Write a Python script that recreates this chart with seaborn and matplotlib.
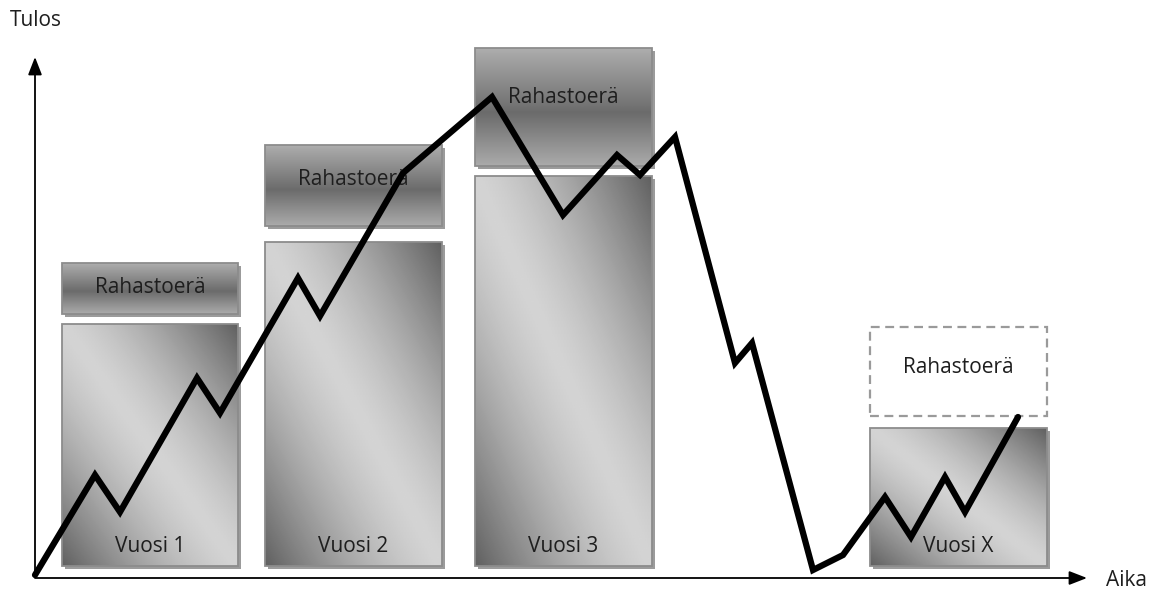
"""
Rahastoerä diagram: result over time with yearly boxes
"""

import numpy as np
import seaborn as sns
import matplotlib.pyplot as plt
from matplotlib.patches import Rectangle

# result curve (time, result)
line_t = [0, 60, 85, 162, 185, 263, 285, 368, 457, 528, 582, 605, 640,
          700, 717, 778, 808, 850, 876, 910, 930, 983]
line_v = [0, 100, 63, 197, 162, 297, 259, 402, 478, 360, 420, 400, 438,
          212, 232, 5, 20, 78, 38, 98, 63, 158]

# yearly boxes
year_labels = ["Vuosi 1", "Vuosi 2", "Vuosi 3", "Vuosi X"]
year_start = [27, 230, 440, 835]
year_end = [203, 407, 617, 1012]
year_top = [251, 333, 399, 147]
year_bottom = 9

# fund batch boxes (last one is still open -> dashed)
fund_label = "Rahastoerä"
fund_bottom = [261, 349, 409, 159]
fund_top = [312, 430, 527, 248]
fund_text_pos = [0.52, 0.58, 0.58, 0.55]

sns.set_theme(style="white")
plt.rcParams["font.family"] = ["Open Sans", "DejaVu Sans"]
FS = 15
TXT = "#1e1e1e"

fig = plt.figure(figsize=(11.68, 5.92), dpi=100)
ax = fig.add_axes([0, 0, 1, 1])


def diag_gradient(n=120):
    u, v = np.meshgrid(np.linspace(0, 1, n), np.linspace(1, 0, n))
    t = np.abs((u + v) - 1.0)
    return 0.83 - 0.45 * t ** 1.4


def vert_gradient(n=120):
    v = np.linspace(1, 0, n)[:, None]
    g = np.interp(v, [0, 0.45, 1], [0.67, 0.42, 0.68])
    return np.repeat(g, 4, axis=1)


def shaded_box(x0, x1, y0, y1, img):
    ax.add_patch(Rectangle((x0 + 3, y0 - 3), x1 - x0, y1 - y0,
                           facecolor="#4a4a4a", alpha=0.55, lw=0, zorder=1))
    im = ax.imshow(img, extent=[x0, x1, y0, y1], cmap="gray", vmin=0, vmax=1,
                   aspect="auto", interpolation="bilinear", zorder=2)
    rect = Rectangle((x0, y0), x1 - x0, y1 - y0, facecolor="none",
                     edgecolor="#8c8c8c", lw=1.3, zorder=3)
    ax.add_patch(rect)
    im.set_clip_path(rect)


for i, lab in enumerate(year_labels):
    x0, x1 = year_start[i], year_end[i]
    shaded_box(x0, x1, year_bottom, year_top[i], diag_gradient())
    ax.text((x0 + x1) / 2, 28, lab, ha="center", va="center",
            fontsize=FS, color=TXT, zorder=4)

    fb, ft = fund_bottom[i], fund_top[i]
    if i < len(year_labels) - 1:
        shaded_box(x0, x1, fb, ft, vert_gradient())
    else:
        ax.add_patch(Rectangle((x0, fb), x1 - x0, ft - fb, facecolor="none",
                               edgecolor="#9a9a9a", lw=1.6,
                               linestyle=(0, (4, 2.5)), zorder=3))
    ax.text((x0 + x1) / 2, fb + fund_text_pos[i] * (ft - fb), fund_label,
            ha="center", va="center", fontsize=FS, color=TXT, zorder=4)

sns.lineplot(x=line_t, y=line_v, sort=False, color="black", lw=4.5,
             solid_joinstyle="miter", ax=ax, zorder=5)

# axes with arrows
arrow = dict(arrowstyle="-|>,head_length=0.9,head_width=0.35",
             color="black", lw=1.3, shrinkA=0, shrinkB=0)
ax.annotate("", xy=(0, 518), xytext=(0, 0), arrowprops=arrow, zorder=6)
ax.annotate("", xy=(1052, -3), xytext=(0, -3), arrowprops=arrow, zorder=6)

ax.text(-25, 555, "Tulos", ha="left", va="center", fontsize=FS, color=TXT)
ax.text(1071, -5, "Aika", ha="left", va="center", fontsize=FS, color=TXT)

ax.set_xlim(-35, 1133)
ax.set_ylim(-17, 575)
ax.axis("off")

fig.savefig("out.png", dpi=100)
